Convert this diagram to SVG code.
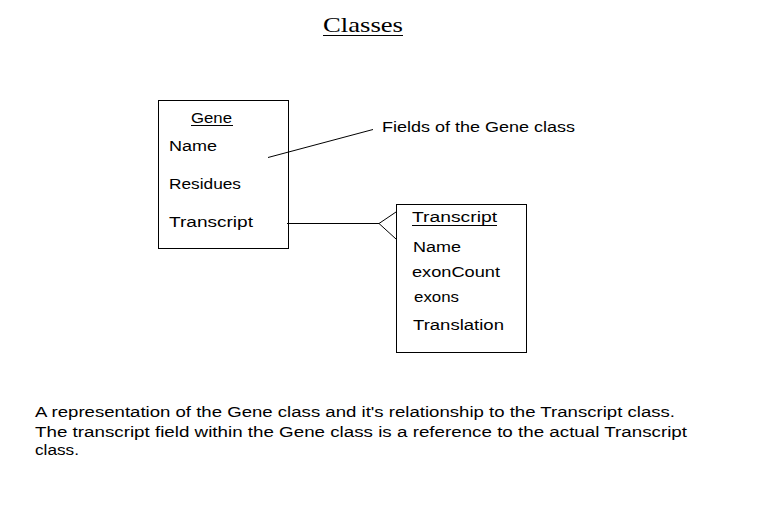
<svg xmlns="http://www.w3.org/2000/svg" width="768" height="519" viewBox="0 0 768 519">
<style>
text{font-family:"Liberation Sans",Arial,sans-serif;font-size:15.5px;fill:#000}
.t{font-family:"Liberation Serif","Times New Roman",serif;font-size:22px}
.box{fill:#fff;stroke:#000;stroke-width:1}
.ln{stroke:#000;stroke-width:1;fill:none}
</style>
<rect width="768" height="519" fill="#fff"/>
<g id="title">
<text class="t" x="323" y="32" textLength="80" lengthAdjust="spacingAndGlyphs">Classes</text>
<line class="ln" x1="323" y1="35.5" x2="403" y2="35.5"/>
</g>
<g id="gene">
<rect class="box" x="158.5" y="100.5" width="130" height="148"/>
<text x="191" y="123" textLength="41" lengthAdjust="spacingAndGlyphs">Gene</text>
<line class="ln" x1="191" y1="125.5" x2="233" y2="125.5"/>
<text x="169" y="151" textLength="48" lengthAdjust="spacingAndGlyphs">Name</text>
<text x="169" y="189" textLength="72" lengthAdjust="spacingAndGlyphs">Residues</text>
<text x="169" y="227" textLength="84" lengthAdjust="spacingAndGlyphs">Transcript</text>
</g>
<g id="transcript">
<rect class="box" x="396.5" y="204.5" width="130" height="148"/>
<text x="412" y="222" textLength="85" lengthAdjust="spacingAndGlyphs">Transcript</text>
<line class="ln" x1="412" y1="225.5" x2="497" y2="225.5"/>
<text x="413" y="252" textLength="48" lengthAdjust="spacingAndGlyphs">Name</text>
<text x="412" y="277" textLength="88" lengthAdjust="spacingAndGlyphs">exonCount</text>
<text x="414" y="302" textLength="45" lengthAdjust="spacingAndGlyphs">exons</text>
<text x="413" y="330" textLength="91" lengthAdjust="spacingAndGlyphs">Translation</text>
</g>
<g id="note">
<text x="382" y="132" textLength="193" lengthAdjust="spacingAndGlyphs">Fields of the Gene class</text>
</g>
<g id="connectors">
<line class="ln" x1="268" y1="157.5" x2="373" y2="129.5"/>
<line class="ln" x1="287" y1="223.5" x2="379" y2="223.5"/>
<polyline class="ln" points="396,212 379,223.5 396,239"/>
</g>
<g id="caption">
<text x="35" y="417" textLength="640" lengthAdjust="spacingAndGlyphs">A representation of the Gene class and it's relationship to the Transcript class.</text>
<text x="35" y="437" textLength="652" lengthAdjust="spacingAndGlyphs">The transcript field within the Gene class is a reference to the actual Transcript</text>
<text x="35" y="455" textLength="44" lengthAdjust="spacingAndGlyphs">class.</text>
</g>
</svg>
